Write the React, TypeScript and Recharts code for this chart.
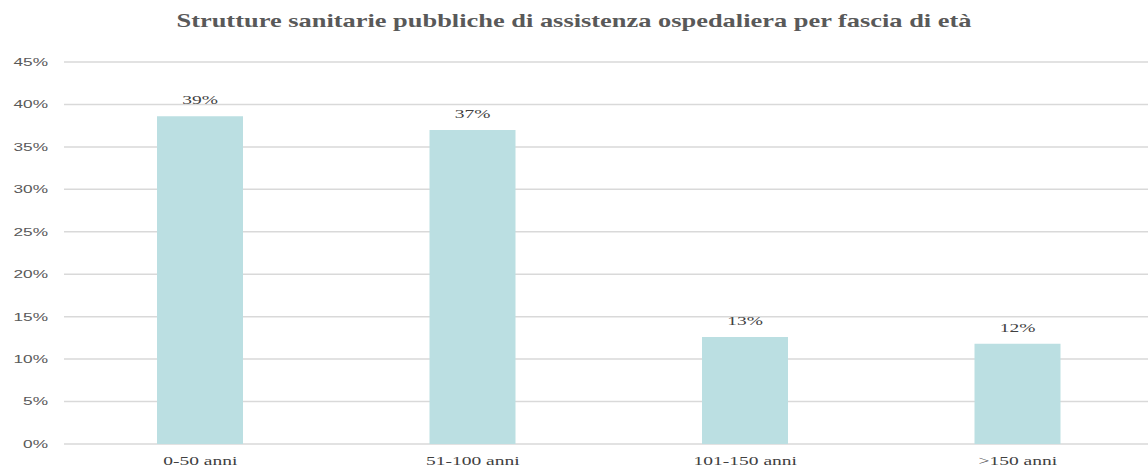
import { Bar, BarChart, CartesianGrid, LabelList, XAxis, YAxis } from "recharts"

const fasce = ["0-50 anni", "51-100 anni", "101-150 anni", ">150 anni"]
const quote = [38.6, 37.0, 12.6, 11.8]
const etichette = ["39%", "37%", "13%", "12%"]
const tickY = [0, 5, 10, 15, 20, 25, 30, 35, 40, 45]

const data = fasce.map((f, i) => ({ fascia: f, quota: quote[i], etichetta: etichette[i] }))

const grigio = "#595959"
const serif = "'Liberation Serif', serif"
// the reference is stretched sideways, so text is widened to match
const STRETCH = 1.5

function TickY(props: any) {
  const { x, y, payload } = props
  return (
    <text
      transform={`translate(${x - 10},${y}) scale(${STRETCH},1)`}
      textAnchor="end"
      dominantBaseline="central"
      fill={grigio}
      fontSize={11.5}
      fontFamily="'Liberation Sans', sans-serif"
    >
      {payload.value}%
    </text>
  )
}

function TickX(props: any) {
  const { x, y, payload } = props
  return (
    <text
      transform={`translate(${x},${y + 13}) scale(${STRETCH},1)`}
      textAnchor="middle"
      fill="#404040"
      fontSize={13}
      fontFamily={serif}
    >
      {payload.value}
    </text>
  )
}

function Etichetta(props: any) {
  const { x, y, width, value } = props
  return (
    <text
      transform={`translate(${x + width / 2},${y - 12}) scale(${STRETCH},1)`}
      textAnchor="middle"
      fill="#404040"
      fontSize={13}
      fontFamily={serif}
    >
      {value}
    </text>
  )
}

export default function App() {
  return (
    <div style={{ position: "fixed", top: 0, left: 0, width: 1148, height: 475, background: "#fff", overflow: "hidden" }}>
      <div
        style={{
          position: "absolute",
          top: 10,
          left: 0,
          width: 1148,
          textAlign: "center",
          fontFamily: serif,
          fontWeight: "bold",
          fontSize: 19,
          color: grigio,
          transform: "scaleX(1.39)",
          transformOrigin: "574px 0",
        }}
      >
        Strutture sanitarie pubbliche di assistenza ospedaliera per fascia di età
      </div>
      <BarChart width={1160} height={475} data={data} margin={{ top: 62, right: 6, left: 0, bottom: 7 }}>
        <CartesianGrid stroke="#d9d9d9" strokeWidth={1.5} vertical={false} />
        <XAxis dataKey="fascia" axisLine={false} tickLine={false} height={24} tick={<TickX />} />
        <YAxis
          domain={[0, 45]}
          ticks={tickY}
          axisLine={false}
          tickLine={false}
          width={64}
          tickMargin={0}
          tick={<TickY />}
        />
        <Bar dataKey="quota" fill="#bbdfe2" barSize={86} isAnimationActive={false}>
          <LabelList dataKey="etichetta" content={<Etichetta />} />
        </Bar>
      </BarChart>
    </div>
  )
}
